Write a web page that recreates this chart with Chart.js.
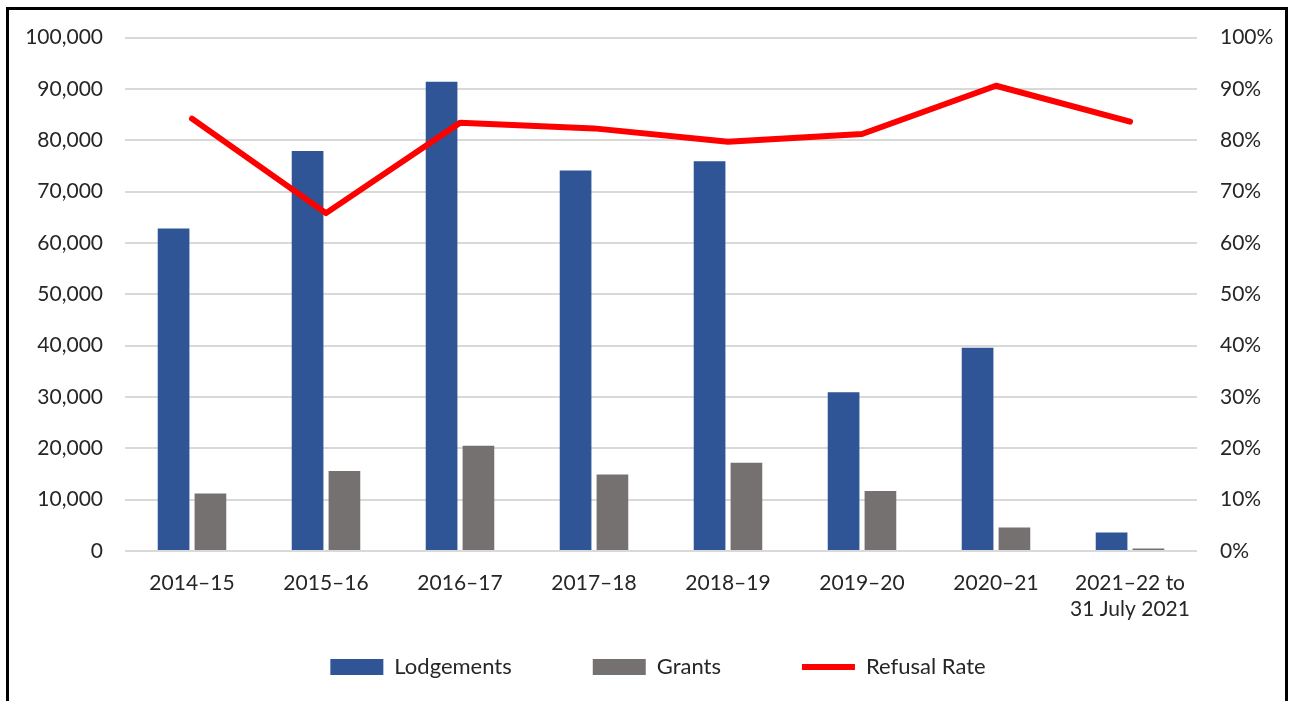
<!DOCTYPE html>
<html>
<head>
<meta charset="utf-8">
<script src="https://cdn.jsdelivr.net/npm/chart.js@4"></script>
<style>
  body { margin: 0; background: #fff; overflow: hidden; }
  #frame { position: absolute; left: 6px; top: 7px; width: 1276px; height: 760px; border: 3px solid #000; overflow: hidden; }
  #res { display: block; }
</style>
</head>
<body>
<div id="frame"><canvas id="res" width="1276" height="678"></canvas></div>
<script>
var years = ["2014\u201315", "2015\u201316", "2016\u201317", "2017\u201318", "2018\u201319", "2019\u201320", "2020\u201321", ["2021\u201322 to", "31 July 2021"]];
var lodgements = [62800, 77900, 91400, 74100, 75900, 30900, 39600, 3600];
var grants = [11200, 15600, 20500, 14900, 17200, 11700, 4600, 500];
var refusalRate = [84.2, 65.8, 83.4, 82.3, 79.7, 81.2, 90.6, 83.6];

var textColor = '#262626';
var font = { family: 'Lato, "Open Sans", sans-serif', size: 21 };
var legendFont = { family: 'Lato, "Open Sans", sans-serif', size: 22 };

(function () {
    var ctx = document.getElementById("res").getContext('2d');

    // vertical axes: no extra padding above/below, the plot top is set by layout padding
    function noPad(scale) {
        scale.paddingTop = 0;
        scale.paddingBottom = 0;
    }

    const options = {
        type: 'bar',
        data: {
            labels: years,
            datasets: [{
                label: 'Lodgements',
                data: lodgements,
                backgroundColor: '#2F5597',
                borderWidth: 0,
                pointStyle: 'rect',
                yAxisID: 'y',
                order: 1
            }, {
                label: 'Grants',
                data: grants,
                backgroundColor: '#767171',
                borderWidth: 0,
                pointStyle: 'rect',
                yAxisID: 'y',
                order: 1
            }, {
                type: 'line',
                label: 'Refusal Rate',
                data: refusalRate,
                borderColor: '#FF0000',
                backgroundColor: '#FF0000',
                borderWidth: 6,
                borderCapStyle: 'round',
                borderJoinStyle: 'round',
                pointRadius: 0,
                pointStyle: 'line',
                tension: 0,
                yAxisID: 'y1',
                order: 0
            }]
        },
        options: {
            responsive: false,
            animation: false,
            categoryPercentage: 0.55,
            barPercentage: 0.86,
            layout: { padding: { top: 27.5, left: 0, right: -22, bottom: 0 } },
            plugins: {
                tooltip: { enabled: false },
                legend: {
                    display: true,
                    position: 'bottom',
                    labels: {
                        usePointStyle: true,
                        pointStyleWidth: 53,
                        boxHeight: 16,
                        padding: 81,
                        color: textColor,
                        font: legendFont,
                        sort: function (a, b) { return a.datasetIndex - b.datasetIndex; }
                    }
                }
            },
            scales: {
                x: {
                    grid: { display: false, drawTicks: false },
                    border: { display: false },
                    ticks: { color: textColor, font: font, padding: 20, maxRotation: 0, autoSkip: false },
                    afterFit: function (scale) {
                        scale.height = 24;
                        // labels run into the legend's padding, so don't clip them
                        scale._computeLabelArea = function () { return null; };
                    }
                },
                y: {
                    position: 'left',
                    min: 0,
                    max: 100000,
                    grid: { color: '#D9D9D9', lineWidth: 2, drawTicks: false },
                    border: { display: false },
                    ticks: {
                        stepSize: 10000,
                        color: textColor,
                        font: font,
                        padding: 22,
                        callback: function (v) { return v.toLocaleString('en-US'); }
                    },
                    afterFit: function (scale) { scale.width = 116; noPad(scale); }
                },
                y1: {
                    position: 'right',
                    min: 0,
                    max: 100,
                    grid: { display: false, drawTicks: false },
                    border: { display: false },
                    ticks: {
                        stepSize: 10,
                        color: textColor,
                        font: font,
                        padding: 23,
                        callback: function (v) { return v + '%'; }
                    },
                    afterFit: function (scale) { scale.width = 110; noPad(scale); }
                }
            }
        }
    };

    var myChart = new Chart(ctx, options);
})();
</script>
</body>
</html>
